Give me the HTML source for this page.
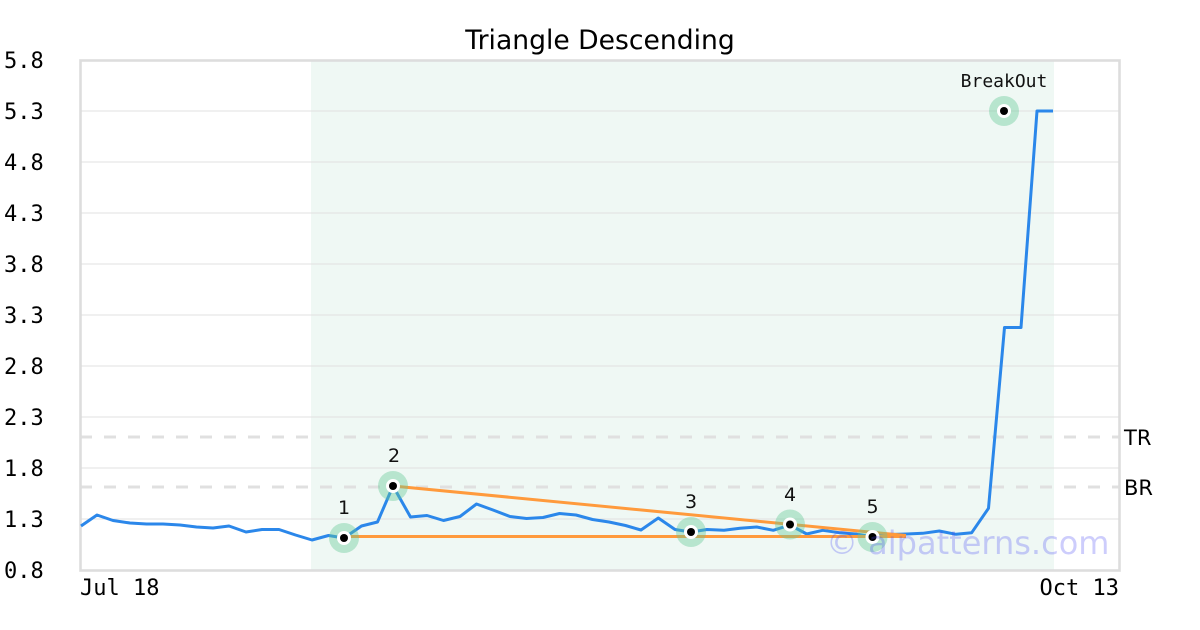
<!DOCTYPE html>
<html>
<head>
<meta charset="utf-8">
<style>
  html, body { margin:0; padding:0; background:#fff; }
  svg { display:block; }
  .mono { font-family: "DejaVu Sans Mono", "Liberation Mono", monospace; }
  .sans { font-family: "DejaVu Sans", "Liberation Sans", sans-serif; }
</style>
</head>
<body>
<svg width="1200" height="630" viewBox="0 0 1200 630" xmlns="http://www.w3.org/2000/svg">
  <rect x="0" y="0" width="1200" height="630" fill="#ffffff"/>

  <!-- shaded pattern region -->
  <rect x="311" y="61" width="743" height="509" fill="#eff8f4"/>

  <!-- gridlines -->
  <g stroke="#e0e0e0" stroke-width="1">
    <line x1="81" y1="111" x2="1119" y2="111"/>
    <line x1="81" y1="162" x2="1119" y2="162"/>
    <line x1="81" y1="213" x2="1119" y2="213"/>
    <line x1="81" y1="264" x2="1119" y2="264"/>
    <line x1="81" y1="315" x2="1119" y2="315"/>
    <line x1="81" y1="366" x2="1119" y2="366"/>
    <line x1="81" y1="417" x2="1119" y2="417"/>
    <line x1="81" y1="468" x2="1119" y2="468"/>
    <line x1="81" y1="519" x2="1119" y2="519"/>
  </g>

  <!-- TR / BR dashed lines -->
  <g stroke="#e0e0e0" stroke-width="3" stroke-dasharray="12,12">
    <line x1="80" y1="437" x2="1120" y2="437"/>
    <line x1="80" y1="487" x2="1120" y2="487"/>
  </g>

  <!-- plot border -->
  <rect x="80.5" y="60.5" width="1039" height="510" fill="none" stroke="#dddddd" stroke-width="2.6"/>

  <!-- price line -->
  <polyline fill="none" stroke="#2b87ea" stroke-width="3" stroke-linejoin="round"
    points="81,526 97,515 113,520.5 130,523 146.5,524 163,524 180,525 196.5,527 213,528 229,526 246,532 262,529.5 279,529.5 295.5,535 312,540 328.5,535.5 344,538 361.5,526 377.5,522 393,486 410.5,517 427,515.5 443.5,520.5 460,516.5 476.5,504 493,510 510,516.5 526.5,518.5 543,517.5 559.5,513.5 576,515 592.5,519.5 609,522 625.5,525.5 641,530 658.3,518 675,529.5 691,532 707,529.5 724,530.3 740,528.3 756.7,527 773.3,530.3 790,525 806.7,534 822.7,530.3 839.3,532.7 856,534 872.5,536.8 890,534.5 906.7,534 922.7,533.3 939.3,531 956,534.3 971.7,532.7 988.5,508.3 1004.5,327.5 1021,327.5 1037,111 1053,111"/>

  <!-- triangle trend lines -->
  <g stroke="#ff9a3c" stroke-width="3" fill="none">
    <line x1="344" y1="536.5" x2="906" y2="536.5"/>
    <line x1="393" y1="486" x2="906" y2="535.5"/>
  </g>

  <!-- markers -->
  <g>
    <circle cx="344" cy="538" r="15" fill="rgba(100,200,150,0.4)"/>
    <circle cx="344" cy="538" r="7" fill="#fff"/>
    <circle cx="344" cy="538" r="4" fill="#000"/>

    <circle cx="393" cy="486" r="15" fill="rgba(100,200,150,0.4)"/>
    <circle cx="393" cy="486" r="7" fill="#fff"/>
    <circle cx="393" cy="486" r="4" fill="#000"/>

    <circle cx="691" cy="532" r="15" fill="rgba(100,200,150,0.4)"/>
    <circle cx="691" cy="532" r="7" fill="#fff"/>
    <circle cx="691" cy="532" r="4" fill="#000"/>

    <circle cx="790" cy="524.5" r="15" fill="rgba(100,200,150,0.4)"/>
    <circle cx="790" cy="524.5" r="7" fill="#fff"/>
    <circle cx="790" cy="524.5" r="4" fill="#000"/>

    <circle cx="872.5" cy="537" r="15" fill="rgba(100,200,150,0.4)"/>
    <circle cx="872.5" cy="537" r="7" fill="#fff"/>
    <circle cx="872.5" cy="537" r="4" fill="#000"/>

    <circle cx="1004" cy="111" r="15" fill="rgba(100,200,150,0.4)"/>
    <circle cx="1004" cy="111" r="7" fill="#fff"/>
    <circle cx="1004" cy="111" r="4" fill="#000"/>
  </g>

  <!-- marker labels -->
  <g class="sans" font-size="19" fill="#111" text-anchor="middle">
    <text x="344" y="514">1</text>
    <text x="394" y="462">2</text>
    <text x="691" y="508">3</text>
    <text x="790" y="501">4</text>
    <text x="872.5" y="513">5</text>
  </g>
  <text class="mono" x="1004" y="87" font-size="18" fill="#111" text-anchor="middle">BreakOut</text>

  <!-- title -->
  <text class="sans" x="600" y="49" font-size="26.6" fill="#000" text-anchor="middle">Triangle Descending</text>

  <!-- y axis labels -->
  <g class="mono" font-size="22" fill="#000">
    <text x="4" y="68">5.8</text>
    <text x="4" y="119">5.3</text>
    <text x="4" y="170">4.8</text>
    <text x="4" y="221">4.3</text>
    <text x="4" y="272">3.8</text>
    <text x="4" y="323">3.3</text>
    <text x="4" y="374">2.8</text>
    <text x="4" y="425">2.3</text>
    <text x="4" y="476">1.8</text>
    <text x="4" y="527">1.3</text>
    <text x="4" y="578">0.8</text>
  </g>

  <!-- x axis labels -->
  <g class="mono" font-size="22" fill="#000">
    <text x="80" y="595">Jul 18</text>
    <text x="1119" y="595" text-anchor="end">Oct 13</text>
  </g>

  <!-- TR / BR labels -->
  <g class="sans" font-size="21" fill="#000">
    <text x="1124" y="445">TR</text>
    <text x="1124" y="495">BR</text>
  </g>

  <!-- watermark -->
  <text class="sans" x="826" y="554" font-size="32" fill="rgba(70,70,245,0.27)">© aipatterns.com</text>
</svg>
</body>
</html>
